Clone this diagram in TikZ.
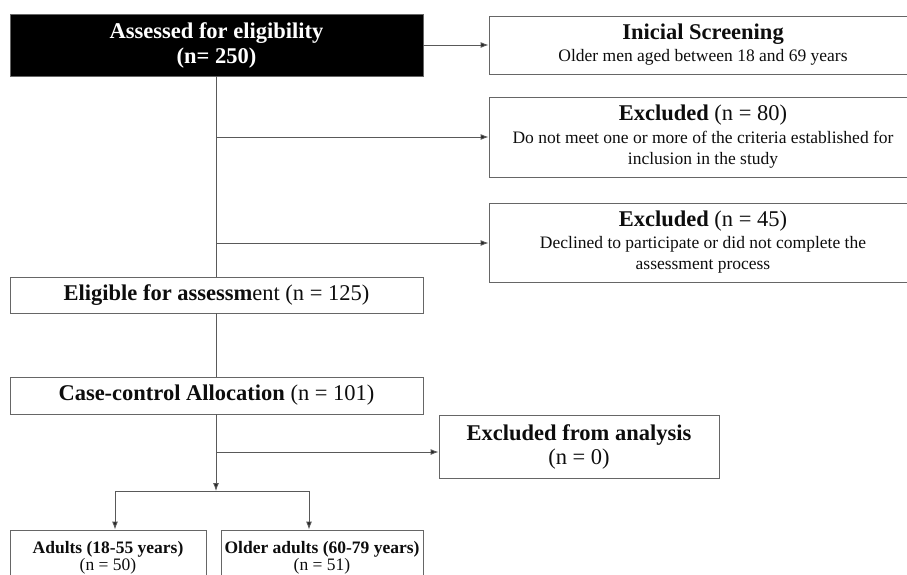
\documentclass[tikz,border=0pt]{standalone}
\usepackage{fontspec}
\setmainfont{Liberation Serif}
\usetikzlibrary{arrows.meta}
\begin{document}
\begin{tikzpicture}[x=1pt,y=-1pt,
  box/.style={draw=black!60,line width=0.9pt,rectangle,inner sep=0pt,align=center,text=black!95,
    font=\fontsize{17.5}{21}\selectfont},
  conn/.style={draw=black!65,line width=0.9pt},
  arr/.style={conn,-{Latex[length=8pt,width=6pt,fill=black!85]}}]
\useasboundingbox (0,0) rectangle (907,574);
\newcommand{\hd}[1]{{\fontsize{22.5}{21}\selectfont #1}}
% nodes
\node[box,fill=black,text=white,minimum width=413,minimum height=62,
  font=\fontsize{22.5}{25}\selectfont\bfseries] (assess) at (216.5,45)
  {Assessed for eligibility\\(n= 250)};
\node[box,minimum width=428,minimum height=58] (screen) at (703,45)
  {\hd{\textbf{Inicial Screening}}\\[1pt]Older men aged between 18 and 69 years};
\node[box,minimum width=428,minimum height=80] (exa) at (703,137)
  {\hd{\textbf{Excluded} (n = 80)}\\[2pt]Do not meet one or more of the criteria established for\\inclusion in the study};
\node[box,minimum width=428,minimum height=79] (exb) at (703,242.5)
  {\hd{\textbf{Excluded} (n = 45)}\\[1pt]Declined to participate or did not complete the\\assessment process};
\node[box,minimum width=413,minimum height=36,font=\fontsize{22.5}{25}\selectfont] (elig) at (216.5,295)
  {\textbf{Eligible for assessm}ent (n = 125)};
\node[box,minimum width=413,minimum height=37,font=\fontsize{22.5}{25}\selectfont] (case) at (216.5,395.5)
  {\textbf{Case-control Allocation} (n = 101)};
\node[box,minimum width=280,minimum height=63,font=\fontsize{22.5}{24}\selectfont] (exan) at (579,446.5)
  {\textbf{Excluded from analysis}\\(n = 0)};
\node[box,minimum width=196,minimum height=56,font=\fontsize{17.5}{17}\selectfont] (adult) at (108,558)
  {\textbf{Adults (18-55 years)}\\(n = 50)};
\node[box,minimum width=202,minimum height=56,font=\fontsize{17.5}{17}\selectfont] (older) at (322,558)
  {\textbf{Older adults (60-79 years)}\\(n = 51)};
% connectors
\coordinate (j1) at (216,137);
\coordinate (j2) at (216,243);
\coordinate (j3) at (216,452);
\coordinate (split) at (216,491);
\coordinate (bl) at (115,491);
\coordinate (br) at (309,491);
\draw[arr] (assess.east) -- (screen.west);
\draw[conn] (assess.south -| j1) -- (elig.north -| j1);
\draw[arr] (j1) -- (exa.west |- j1);
\draw[arr] (j2) -- (exb.west |- j2);
\draw[conn] (elig.south -| j1) -- (case.north -| j1);
\draw[arr] (case.south -| j1) -- (split);
\draw[arr] (j3) -- (exan.west |- j3);
\draw[conn] (bl) -- (br);
\draw[arr] (bl) -- (adult.north -| bl);
\draw[arr] (br) -- (older.north -| br);
\end{tikzpicture}
\end{document}
